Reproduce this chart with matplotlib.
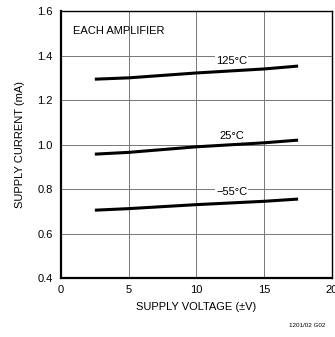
import matplotlib
matplotlib.use("Agg")
import matplotlib.pyplot as plt

# ------------------------------------------------------------------ Daten
volts = [2.5, 5, 10, 15, 17.5]
i_125 = [1.294, 1.300, 1.322, 1.340, 1.353]
i_25 = [0.957, 0.965, 0.990, 1.008, 1.020]
i_m55 = [0.705, 0.712, 0.730, 0.745, 0.755]
curves = [("125°C", i_125, 1.375), ("25°C", i_25, 1.04), ("\u221255°C", i_m55, 0.785)]

xticks = [0, 5, 10, 15, 20]
yticks = [0.4, 0.6, 0.8, 1.0, 1.2, 1.4, 1.6]

plt.rcParams["font.family"] = ["Liberation Sans", "DejaVu Sans"]

fig = plt.figure(figsize=(3.35, 3.37), dpi=100)
ax = fig.add_axes([0.182, 0.175, 0.809, 0.792])

for label, vals, ylab in curves:
    ax.plot(volts, vals, color="black", lw=2.2, solid_capstyle="butt")
    ax.text(12.6, ylab, label, fontsize=8, ha="center", va="center",
            bbox=dict(facecolor="white", edgecolor="none", pad=0.5))

ax.text(0.9, 1.51, "EACH AMPLIFIER", fontsize=8, ha="left", va="center")

ax.set_xlim(0, 20); ax.set_ylim(0.4, 1.6)
ax.set_xticks(xticks); ax.set_yticks(yticks)
ax.set_yticklabels([f"{v:.1f}" for v in yticks])
ax.grid(True, color="#777777", lw=0.7)
ax.set_axisbelow(True)
ax.tick_params(axis="y", length=0, labelsize=8, pad=6)
ax.tick_params(axis="x", length=0, labelsize=8, pad=5)
for s in ["left", "bottom"]:
    ax.spines[s].set_linewidth(1.6)
for s in ["top", "right"]:
    ax.spines[s].set_linewidth(1.0)

ax.set_xlabel("SUPPLY VOLTAGE (\u00b1V)", fontsize=8, labelpad=5)
ax.set_ylabel("SUPPLY CURRENT (mA)", fontsize=8, labelpad=9)
fig.text(0.97, 0.035, "1201/02 G02", fontsize=4.5, ha="right", va="center")

fig.savefig("out.png", dpi=100)
